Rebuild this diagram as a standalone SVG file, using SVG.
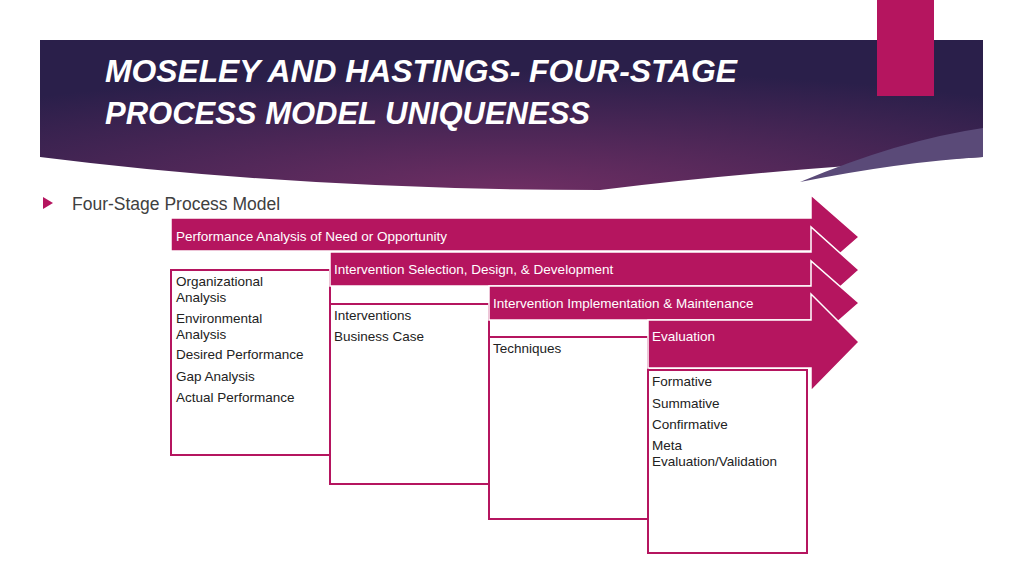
<svg xmlns="http://www.w3.org/2000/svg" width="1024" height="576" viewBox="0 0 1024 576">
<defs>
<radialGradient id="bg" cx="0.5" cy="1" r="0.8">
<stop offset="0" stop-color="#6e2e63"/><stop offset="1" stop-color="#2a1f4a"/>
</radialGradient>
<style>
.ar{fill:#b5155f;stroke:#fff;stroke-width:1.5}
.bx{fill:#fff;stroke:#b5155f;stroke-width:2}
.at{font-family:"Century Gothic","Liberation Sans",sans-serif;font-size:13.5px;fill:#fff}
.bt{font-family:"Century Gothic","Liberation Sans",sans-serif;font-size:13.5px;fill:#222}
</style>
</defs>
<rect width="1024" height="576" fill="#fff"/>
<path d="M40 40 H983 V157 Q760 170 600 190 Q300 190 40 157 Z" fill="url(#bg)"/>
<path d="M983 128 Q900 140 800 182 Q900 162 983 157 Z" fill="#5a4a78"/>
<rect x="877" y="0" width="57" height="96" fill="#b5155f"/>
<text font-family="Century Gothic, Liberation Sans, sans-serif" font-size="31" font-style="italic" font-weight="bold" fill="#fff" textLength="632" lengthAdjust="spacingAndGlyphs" x="105" y="82">MOSELEY AND HASTINGS- FOUR-STAGE</text>
<text font-family="Century Gothic, Liberation Sans, sans-serif" font-size="31" font-style="italic" font-weight="bold" fill="#fff" textLength="485" lengthAdjust="spacingAndGlyphs" x="105" y="124">PROCESS MODEL UNIQUENESS</text>
<path d="M43 197 L53 203 L43 209 Z" fill="#b5155f"/>
<text x="72" y="210" font-family="Century Gothic, Liberation Sans, sans-serif" font-size="17.5" fill="#404040">Four-Stage Process Model</text>
<g id="boxes">
<g id="b1"><rect class="bx" x="171" y="270" width="159" height="185"/>
<text class="bt"><tspan x="176" y="286">Organizational</tspan><tspan x="176" y="302">Analysis</tspan><tspan x="176" y="323">Environmental</tspan><tspan x="176" y="339">Analysis</tspan><tspan x="176" y="359">Desired Performance</tspan><tspan x="176" y="381">Gap Analysis</tspan><tspan x="176" y="402">Actual Performance</tspan></text></g>
<g id="b2"><rect class="bx" x="330" y="304" width="159" height="180"/>
<text class="bt"><tspan x="334" y="320">Interventions</tspan><tspan x="334" y="341">Business Case</tspan></text></g>
<g id="b3"><rect class="bx" x="489" y="337" width="159" height="182"/>
<text class="bt"><tspan x="493" y="353">Techniques</tspan></text></g>
<g id="b4"><rect class="bx" x="648" y="370" width="159" height="183"/>
<text class="bt"><tspan x="652" y="386">Formative</tspan><tspan x="652" y="408">Summative</tspan><tspan x="652" y="429">Confirmative</tspan><tspan x="652" y="450">Meta</tspan><tspan x="652" y="466">Evaluation/Validation</tspan></text></g>
</g>
<g id="arrows">
<g id="a1"><path class="ar" d="M171 218 H811 V195 L859 237 L811 279 V251 H171 Z"/><text class="at" x="176" y="241">Performance Analysis of Need or Opportunity</text></g>
<g id="a2"><path class="ar" d="M330 252 H811 V227 L859 270 L811 313 V286 H330 Z"/><text class="at" x="334" y="274">Intervention Selection, Design, &amp; Development</text></g>
<g id="a3"><path class="ar" d="M489 286 H811 V261 L859 303 L811 345 V320 H489 Z"/><text class="at" x="493" y="308">Intervention Implementation &amp; Maintenance</text></g>
<g id="a4"><path class="ar" d="M648 320 H811 V294 L859 342 L811 391 V368 H648 Z"/><text class="at" x="652" y="341">Evaluation</text></g>
</g>
</svg>
